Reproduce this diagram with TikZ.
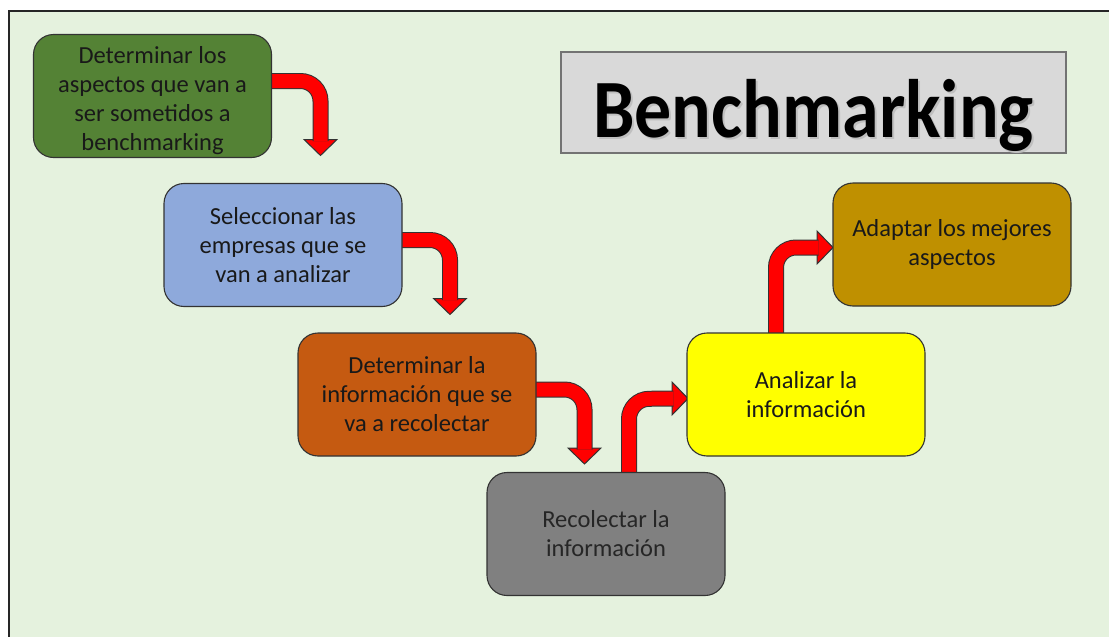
\documentclass[tikz,border=0pt]{standalone}
\usepackage{fontspec}
\setmainfont{Carlito}
\providecommand{\bmStroke}{black!80}
\definecolor{bmBack}{RGB}{229,242,222}
\definecolor{bmGreen}{RGB}{84,130,53}
\definecolor{bmBlue}{RGB}{142,169,219}
\definecolor{bmOrange}{RGB}{197,90,17}
\definecolor{bmGray}{RGB}{128,128,128}
\definecolor{bmYellow}{RGB}{255,255,0}
\definecolor{bmGold}{RGB}{191,144,0}
\definecolor{bmTitle}{RGB}{217,217,217}
\usepackage{tikz}
\usetikzlibrary{calc,positioning,backgrounds}
% lettering with a soft drop shadow, stretched a little upwards
\newcommand{\bmShadowText}[1]{\scalebox{1}[1.12]{\rlap{\kern2pt\raisebox{-2pt}{\color{black!25}#1}}#1}}
\tikzset{
  stepbox/.style={draw=\bmStroke,rounded corners=20pt,line width=1.1pt,minimum width=238pt,minimum height=123pt,
    align=center,inner sep=0pt,outer sep=0pt,font=\fontsize{24.5}{29}\selectfont,text=black!90},
  % title plate and its lettering
  titlebox/.style={draw=black!55,line width=1.2pt,fill=bmTitle,minimum width=505pt,minimum height=101pt,inner sep=0pt},
  titletext/.style={font=\bfseries\fontsize{74}{80}\selectfont,inner sep=0pt,anchor=base},
  % bent red connector: shaft drawn as a double line, head as a pic
  shaft/.style={draw=\bmStroke,line width=1pt,double=red,double distance=14pt,rounded corners=20pt},
  ahead/.pic={\filldraw[draw=\bmStroke,fill=red,line width=1pt,line join=miter] (0,-16.5) -- (16,0) -- (0,16.5) -- cycle;},
}

\begin{document}
\begin{tikzpicture}[x=1pt,y=-1pt]
\useasboundingbox (0,0) rectangle (1109,637);
% --- Primitive nodes -------------------------------------------------------

  \node[stepbox,fill=bmGreen] (det) at (152.5,96.00) {\rule{0pt}{26pt}Determinar los\\aspectos que van a\\ser sometidos a\\benchmarking};

  \node[stepbox,fill=bmBlue] (sel) at (283.0,245.0) {Seleccionar las\\empresas que se\\van a analizar};

  \node[stepbox,fill=bmOrange] (inf) at (417.0,394.5) {Determinar la\\información que se\\va a recolectar};

  \node[stepbox,fill=bmGray,text=black!85] (col) at (606.0,534.0) {Recolectar la\\información};

  \node[stepbox,fill=bmYellow] (ana) at (806.0,394.5) {Analizar la\\información};

  \node[stepbox,fill=bmGold] (ada) at (952.0,244.5) {Adaptar los mejores\\aspectos};

  \node[titlebox] (title) at (813.5,102.5) {};
  \node[titletext] (titlelabel) at (813.5,137) {\bmShadowText{Benchmarking}};

% --- Frame (background layer) ---------------------------------------------

\begin{scope}[on background layer]
  \fill[bmBack] (9,11) rectangle (1109,637);
  \draw[line width=1.3pt,black!85] (9,637) -- (9,11) -- (1109,11);

% --- Edges -----------------------------------------------------------------

  \pic[rotate=-90] at ($(det.north east)+(49.0,105)$) {ahead};
  \path[shaft] ($(det.north east)+(0,46.5)$) -- ++(49.0,0) -- ($(det.north east)+(49.0,106.5)$);

  \pic[rotate=-90] at ($(sel.north east)+(48.0,115)$) {ahead};
  \path[shaft] ($(sel.north east)+(0,56.5)$) -- ++(48.0,0) -- ($(sel.north east)+(48.0,116.5)$);

  \pic[rotate=-90] at ($(inf.north east)+(48.5,115)$) {ahead};
  \path[shaft] ($(inf.north east)+(0,56.5)$) -- ++(48.5,0) -- ($(inf.north east)+(48.5,116.5)$);

  \pic at ($(ana.north west)+(-15.0,65.5)$) {ahead};
  \path[shaft] ($(col.north west)+(142.0,0)$) -- ++(0,-73.5) -- ($(ana.north west)+(-13.5,65.5)$);

  \pic at ($(ada.north west)+(-16.0,64.5)$) {ahead};
  \path[shaft] ($(ana.north west)+(89.0,0)$) -- ++(0,-85.5) -- ($(ada.north west)+(-14.5,64.5)$);
\end{scope}

\end{tikzpicture}
\end{document}
